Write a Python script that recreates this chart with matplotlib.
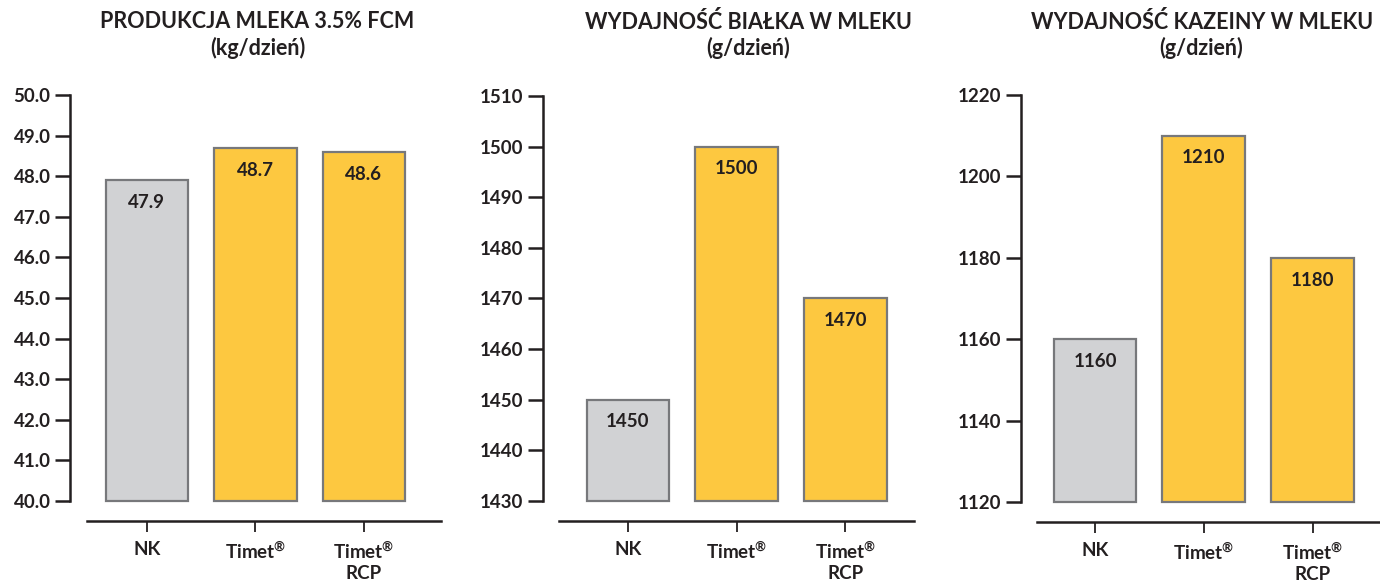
import matplotlib
matplotlib.use('Agg')
import matplotlib.pyplot as plt
import matplotlib.transforms as mtransforms
import numpy as np

FONT = 'Lato'
plt.rcParams['font.family'] = [FONT, 'DejaVu Sans']
plt.rcParams['font.weight'] = 'bold'
plt.rcParams['mathtext.fontset'] = 'custom'
plt.rcParams['mathtext.rm'] = FONT + ':bold'
plt.rcParams['mathtext.it'] = FONT + ':bold'
plt.rcParams['mathtext.bf'] = FONT + ':bold'

# data
categories = ['NK', 'Timet$^{®}$', 'Timet$^{®}$\nRCP']
titles = ['PRODUKCJA MLEKA 3.5% FCM\n(kg/dzień)',
          'WYDAJNOŚĆ BIAŁKA W MLEKU\n(g/dzień)',
          'WYDAJNOŚĆ KAZEINY W MLEKU\n(g/dzień)']
milk = [47.9, 48.7, 48.6]
protein = [1450, 1500, 1470]
casein = [1160, 1210, 1180]
values = [milk, protein, casein]
yticks = [np.arange(40, 50.1, 1.0), np.arange(1430, 1511, 10), np.arange(1120, 1221, 20)]
fmts = ['{:.1f}', '{:.0f}', '{:.0f}']

# layout (pixels)
W, H = 1380, 585
boxes = [(70, 84, 375, 406), (543, 84, 378.5, 405), (1021, 83, 359, 407)]
xlims = [(-0.71, 2.75), (-0.78, 2.70), (-0.68, 2.62)]
xbounds = [(-0.55, 2.71), (-0.63, 2.63), (-0.53, 2.62)]
title_x = [1.02, 1.11, 0.98]

gray = '#D1D2D4'
yellow = '#FDC840'
edge = '#77787B'
dark = '#231F20'
colors = [gray, yellow, yellow]

fig = plt.figure(figsize=(W / 100, H / 100), dpi=100)

for i in range(3):
    l, b, w, h = boxes[i]
    ax = fig.add_axes([l / W, b / H, w / W, h / H])
    ymin, ymax = yticks[i][0], yticks[i][-1]
    x = np.arange(3)
    ax.bar(x, np.array(values[i]) - ymin, bottom=ymin, width=0.76,
           color=colors, edgecolor=edge, linewidth=1.6, clip_on=False, zorder=2)
    for xi, v in zip(x, values[i]):
        ax.annotate(fmts[i].format(v), (xi, v), xytext=(0, -16), textcoords='offset points',
                    ha='center', va='center', fontsize=13.5, fontweight='bold', color=dark)
    ax.set_xlim(*xlims[i])
    ax.set_ylim(ymin, ymax)
    ax.set_yticks(yticks[i])
    ax.set_yticklabels([fmts[i].format(t) for t in yticks[i]])
    ax.set_xticks(x)
    ax.set_xticklabels(categories, linespacing=1.05)
    for s in ['top', 'right']:
        ax.spines[s].set_visible(False)
    ax.spines['left'].set_linewidth(1.8)
    ax.spines['left'].set_color(dark)
    ax.spines['bottom'].set_linewidth(1.8)
    ax.spines['bottom'].set_color(dark)
    ax.spines['bottom'].set_position(('outward', 14.5))
    ax.spines['bottom'].set_bounds(*xbounds[i])
    ax.tick_params(axis='y', direction='out', length=11, width=1.8, color=dark,
                   pad=3, labelsize=13.5, labelcolor=dark)
    ax.tick_params(axis='x', direction='out', length=8, width=1.3, color=dark,
                   pad=6, labelsize=13.5, labelcolor=dark)
    for lab in ax.get_xticklabels() + ax.get_yticklabels():
        lab.set_fontweight('bold')
    trans = mtransforms.blended_transform_factory(ax.transData, fig.transFigure)
    ax.text(title_x[i], 550 / H, titles[i], transform=trans, ha='center', va='center',
            fontsize=15.5, fontweight='bold', color=dark, linespacing=1.25)

fig.savefig('out.png', dpi=100)
